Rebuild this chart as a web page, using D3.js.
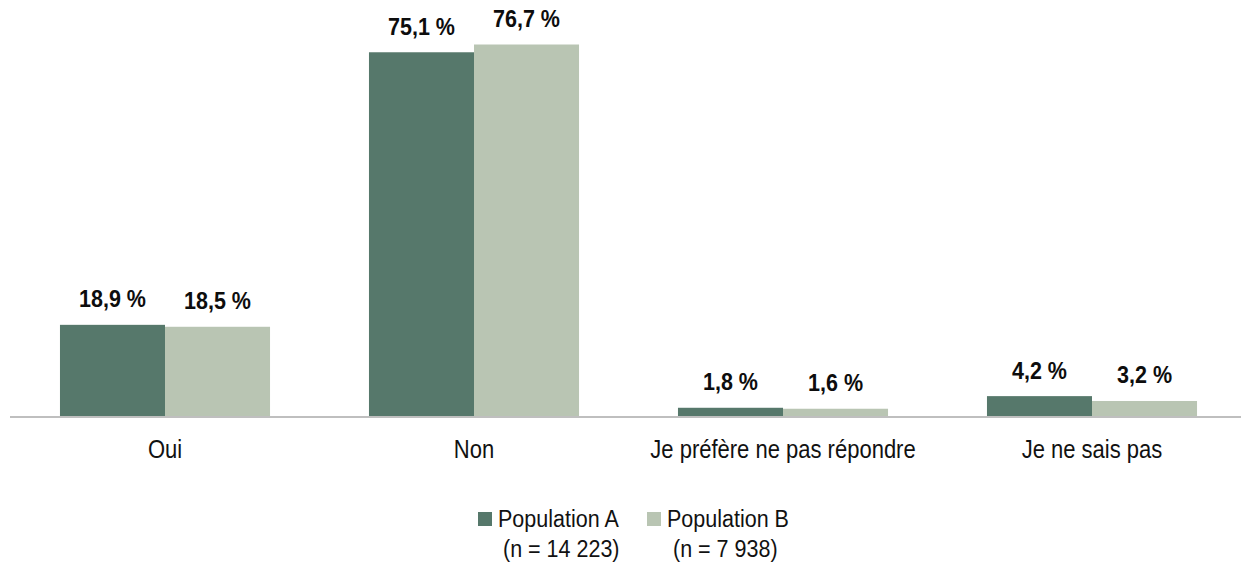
<!DOCTYPE html>
<html><head><meta charset="utf-8">
<script src="https://cdn.jsdelivr.net/npm/d3@7"></script>
<style>
html,body{margin:0;padding:0;background:#fff;}
svg{display:block;font-family:"Liberation Sans",Arial,sans-serif;}
</style></head>
<body>
<svg id="chart" width="1241" height="564"></svg>
<script>
const categories = ["Oui", "Non", "Je préfère ne pas répondre", "Je ne sais pas"];
const seriesNames = ["Population A", "Population B"];
const seriesN = ["(n = 14 223)", "(n = 7 938)"];
const popA = [18.9, 75.1, 1.8, 4.2];
const popB = [18.5, 76.7, 1.6, 3.2];
const colors = ["#56786b", "#b9c5b3"];

const values = [popA, popB];
const svg = d3.select("#chart");
const fmt = v => d3.format(".1f")(v).replace(".", ",") + " %";
const SY = 1.13;
const tf = (x, y) => `translate(${x},${y}) scale(1,${SY})`;

const x0 = d3.scaleBand().domain(categories).range([10.5, 1246.5]).paddingInner(0).paddingOuter(0);
const x1 = d3.scaleBand().domain(seriesNames).range([0, x0.bandwidth()]).paddingInner(0).paddingOuter(0.471);
const y = d3.scaleLinear().domain([0, 80]).range([416.5, 416.5 - 80 * 4.85]);

const data = [];
categories.forEach((c, i) => seriesNames.forEach((s, j) => data.push({c, s, j, v: values[j][i]})));

svg.append("g").selectAll("rect").data(data).join("rect")
  .attr("x", d => x0(d.c) + x1(d.s))
  .attr("y", d => y(d.v))
  .attr("width", x1.bandwidth())
  .attr("height", d => y(0) - y(d.v))
  .attr("fill", d => colors[d.j]);

svg.append("line").attr("x1", 10).attr("x2", 1241).attr("y1", y(0) + 0.5).attr("y2", y(0) + 0.5)
  .attr("stroke", "#bfbfbf").attr("stroke-width", 2);

svg.append("g").selectAll("text").data(data).join("text")
  .attr("transform", d => tf(x0(d.c) + x1(d.s) + x1.bandwidth() / 2, y(d.v) - 17.5))
  .attr("text-anchor", "middle")
  .attr("font-size", 21.5).attr("font-weight", "bold").attr("fill", "#0d0d0d")
  .text(d => fmt(d.v));

svg.append("g").selectAll("text").data(categories).join("text")
  .attr("transform", d => tf(x0(d) + x0.bandwidth() / 2, 458))
  .attr("text-anchor", "middle")
  .attr("font-size", 22).attr("fill", "#111")
  .text(d => d);

const legX = [478, 647];
const lg = svg.append("g");
seriesNames.forEach((s, j) => {
  lg.append("rect").attr("x", legX[j]).attr("y", 512).attr("width", 14).attr("height", 14).attr("fill", colors[j]);
  lg.append("text").attr("transform", tf(legX[j] + 20, 527)).attr("font-size", 21.5).attr("fill", "#111").text(s);
  lg.append("text").attr("transform", tf(legX[j] + 20 + (j === 0 ? 5 : 6), 557)).attr("font-size", 21.5).attr("fill", "#111").text(seriesN[j]);
});
</script>
</body></html>
